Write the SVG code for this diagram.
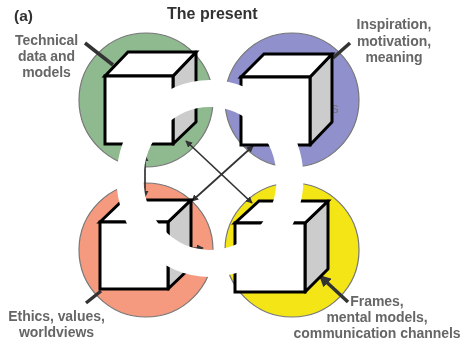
<svg xmlns="http://www.w3.org/2000/svg" width="464" height="341" viewBox="0 0 464 341">
<defs>
<style>
.lbl{font-family:"Liberation Sans",Arial,sans-serif;font-size:14px;fill:#666;text-anchor:middle;font-weight:bold;stroke:none;letter-spacing:-.05px}
.ttl{font-family:"Liberation Sans",Arial,sans-serif;font-size:16px;fill:#333;font-weight:bold}
.circ{stroke:#777;stroke-width:1.2}
.front{fill:#fff;stroke:#000;stroke-width:3;stroke-linejoin:miter}
.side{fill:#ccc;stroke:#000;stroke-width:3;stroke-linejoin:round}
.ptr{stroke:#333;stroke-width:3.5;fill:none}
.link{stroke:#333;stroke-width:1.7;fill:none;marker-start:url(#h);marker-end:url(#h)}
</style>
<marker id="h" viewBox="0 0 8 8" refX="7" refY="4" markerWidth="7" markerHeight="7" markerUnits="userSpaceOnUse" orient="auto-start-reverse"><path d="M0 0L8 4L0 8z" fill="#333"/></marker>
<marker id="p" viewBox="0 0 8 8" refX="7" refY="4" markerWidth="3.4" markerHeight="3.4" orient="auto"><path d="M0 0L8 4L0 8z" fill="#333"/></marker>
<filter id="b" x="-5%" y="-5%" width="110%" height="110%"><feGaussianBlur stdDeviation=".5"/></filter>
</defs>
<rect width="464" height="341" fill="#fff"/>
<g filter="url(#b)">
<circle class="circ" cx="146" cy="100" r="67" fill="#8fb98f"/>
<circle class="circ" cx="292" cy="100" r="67" fill="#8f90cc"/>
<circle class="circ" cx="146" cy="250" r="67" fill="#f59a7e"/>
<circle class="circ" cx="292" cy="250" r="67" fill="#f4e614"/>
</g>
<g id="connectors">
<path class="link" d="M186 141L252 203"/>
<path class="link" d="M253 146L192 201"/>
<path class="link" d="M145 155V197"/>
<path class="link" d="M135 248H203"/>
<path class="ptr" d="M85 43L113 65"/>
<path class="ptr" d="M350 43L333 58"/>
<path class="ptr" d="M86 303L101 291"/>
<path class="ptr" marker-end="url(#p)" d="M348 302L320 276"/>
</g>
<g id="node-technical">
<path class="side" d="M173 76L196 52V122L173 144z"/>
<path class="front" d="M105 76L128 52H196L173 76z"/>
<rect class="front" x="105" y="76" width="68" height="68"/>
<text class="lbl" filter="url(#b)" x="46.500" y="45">Technical</text>
<text class="lbl" filter="url(#b)" x="46.500" y="61">data and</text>
<text class="lbl" filter="url(#b)" x="46.500" y="77">models</text>
</g>
<g id="node-inspiration">
<text class="lbl" filter="url(#b)" x="335" y="113" style="font-weight:normal;fill:#777">s</text>
<path class="side" d="M310 77L332 54V122L310 145z"/>
<path class="front" d="M241 77L264 54H332L310 77z"/>
<rect class="front" x="241" y="77" width="69" height="68"/>
<text class="lbl" filter="url(#b)" x="394" y="29">Inspiration,</text>
<text class="lbl" filter="url(#b)" x="394" y="46">motivation,</text>
<text class="lbl" filter="url(#b)" x="394" y="62">meaning</text>
</g>
<g id="node-ethics">
<path class="side" d="M168 222L191 200V267L168 289z"/>
<path class="front" d="M100 222L123 200H191L168 222z"/>
<rect class="front" x="100" y="222" width="68" height="67"/>
<text class="lbl" filter="url(#b)" x="56.500" y="321">Ethics, values,</text>
<text class="lbl" filter="url(#b)" x="56.500" y="337">worldviews</text>
</g>
<g id="node-frames">
<path class="side" d="M305 223L328 201V269L305 292z"/>
<path class="front" d="M235 223L259 201H328L305 223z"/>
<rect class="front" x="235" y="223" width="70" height="69"/>
<text class="lbl" filter="url(#b)" x="377" y="306">Frames,</text>
<text class="lbl" filter="url(#b)" x="377" y="322">mental models,</text>
<text class="lbl" filter="url(#b)" x="377" y="338">communication channels</text>
</g>
<ellipse cx="210" cy="178.500" rx="80" ry="85" fill="none" stroke="#fff" stroke-width="27"/>
<text class="ttl" filter="url(#b)" x="167" y="19">The present</text>
<text class="ttl" filter="url(#b)" x="14" y="21" style="font-size:15.500px">(a)</text>
</svg>
